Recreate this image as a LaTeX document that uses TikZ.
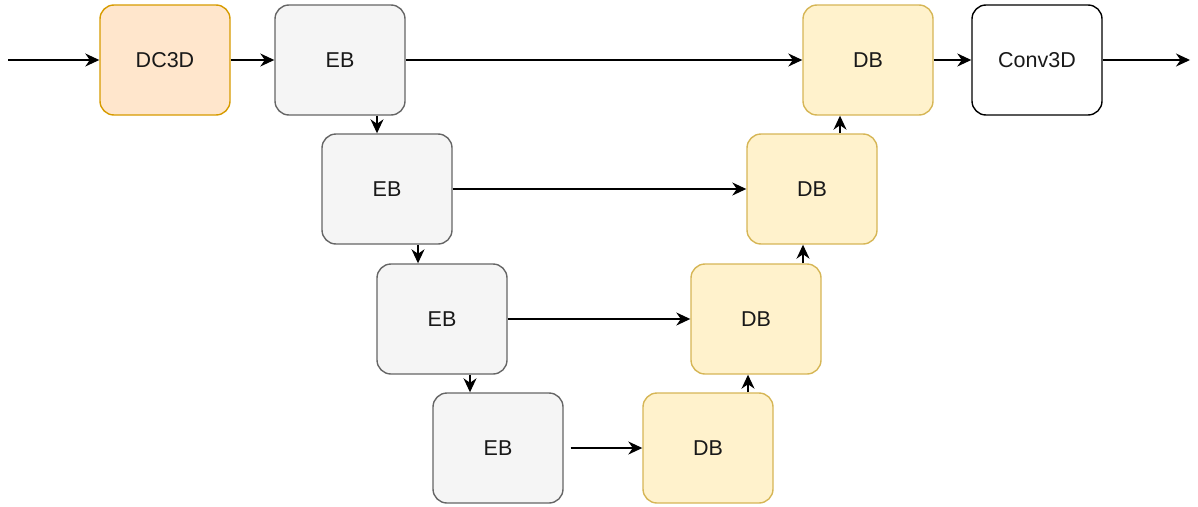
\documentclass[tikz,border=0pt]{standalone}
\usepackage{fontspec}
\setmainfont{Liberation Sans}
\usetikzlibrary{arrows.meta}
\definecolor{dcfill}{HTML}{FFE6CC}
\definecolor{dcdraw}{HTML}{D79B00}
\definecolor{ebfill}{HTML}{F5F5F5}
\definecolor{ebdraw}{HTML}{666666}
\definecolor{dbfill}{HTML}{FFF2CC}
\definecolor{dbdraw}{HTML}{D6B656}
\tikzset{
  blk/.style={rectangle, rounded corners=14pt, minimum width=130pt, minimum height=110pt,
    line width=1.4pt, font=\fontsize{21.5}{25}\selectfont, text=black!90, inner sep=0pt},
  dcbox/.style={blk, fill=dcfill, draw=dcdraw},
  ebbox/.style={blk, fill=ebfill, draw=ebdraw},
  dbbox/.style={blk, fill=dbfill, draw=dbdraw},
  cvbox/.style={blk, fill=white, draw=black},
  arr/.style={line width=1.6pt, -{Stealth[length=14pt,width=13pt,inset=4.5pt]}}
}
\begin{document}
\begin{tikzpicture}[x=1pt,y=-1pt]
\useasboundingbox (0,0) rectangle (1198,506);
\node[dcbox] (dc) at (165,60) {DC3D};
\node[ebbox] (eb1) at (340,60) {EB};
\node[ebbox] (eb2) at (387,189) {EB};
\node[ebbox] (eb3) at (442,319) {EB};
\node[ebbox] (eb4) at (498,448) {EB};
\node[dbbox] (db4) at (708,448) {DB};
\node[dbbox] (db3) at (756,319) {DB};
\node[dbbox] (db2) at (812,189) {DB};
\node[dbbox] (db1) at (868,60) {DB};
\node[cvbox] (cv) at (1037,60) {Conv3D};
\coordinate (in) at (8,60);
\coordinate (out) at (1190,60);
\draw[arr] (in) -- (dc.west);
\draw[arr] (dc.east) -- (eb1.west);
\draw[arr] (eb1.east) -- (db1.west);
\draw[arr] (db1.east) -- (cv.west);
\draw[arr] (cv.east) -- (out);
\draw[arr] (eb1.south -| 377,0) -- (eb2.north -| 377,0);
\draw[arr] (eb2.south -| 418,0) -- (eb3.north -| 418,0);
\draw[arr] (eb3.south -| 470,0) -- (eb4.north -| 470,0);
\draw[arr] (eb2.east) -- (db2.west);
\draw[arr] (eb3.east) -- (db3.west);
\draw[arr] ([xshift=7pt]eb4.east) -- (db4.west);
\draw[arr] (db4.north -| 748,0) -- (db3.south -| 748,0);
\draw[arr] (db3.north -| 803,0) -- (db2.south -| 803,0);
\draw[arr] (db2.north -| 840,0) -- (db1.south -| 840,0);
\end{tikzpicture}
\end{document}
